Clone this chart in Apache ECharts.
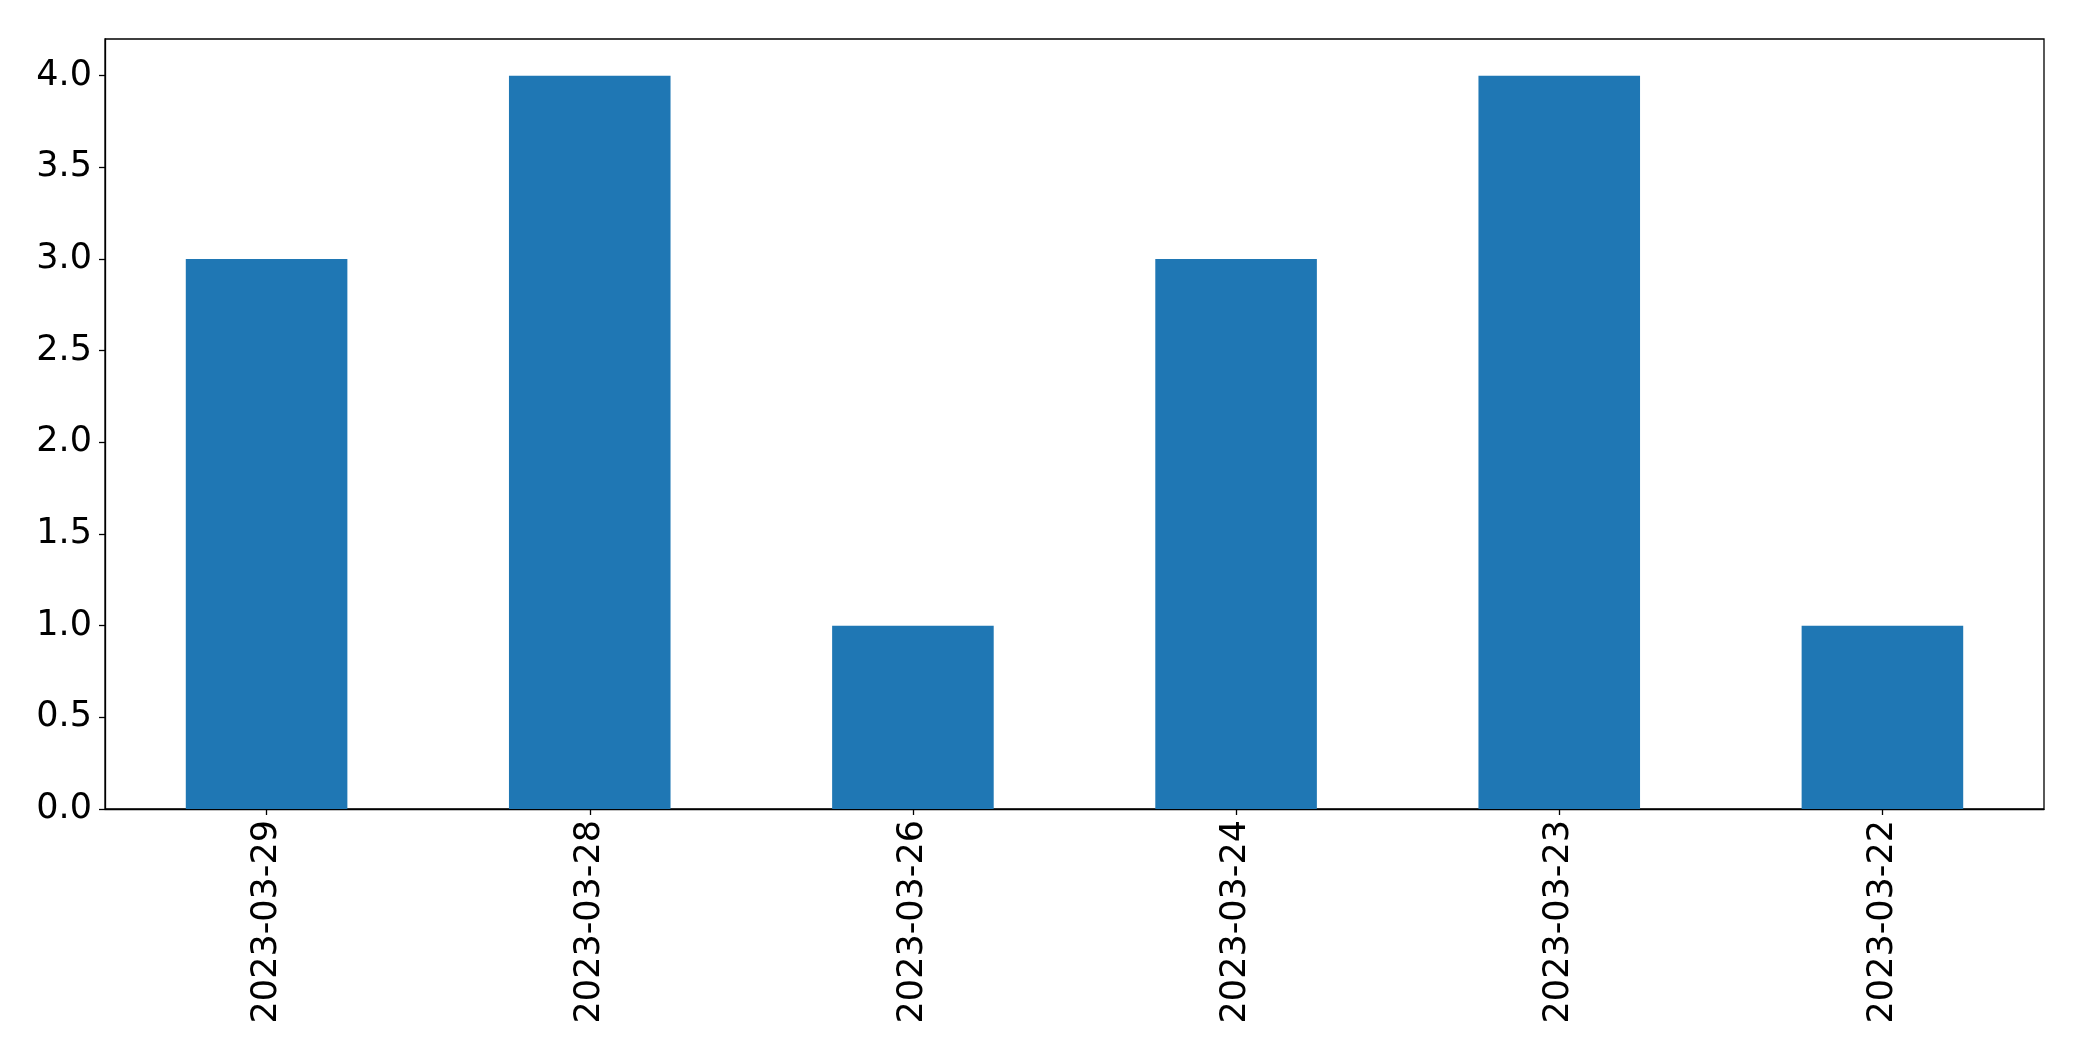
<!DOCTYPE html>
<html>
<head>
<meta charset="utf-8">
<script src="https://cdn.jsdelivr.net/npm/echarts@6/dist/echarts.min.js"></script>
<style>
html,body{margin:0;padding:0;background:#fff;}
#chart{width:2082px;height:1061px;}
</style>
</head>
<body>
<div id="chart"></div>
<script>
const categories = ["2023-03-29", "2023-03-28", "2023-03-26", "2023-03-24", "2023-03-23", "2023-03-22"];
const values = [3, 4, 1, 3, 4, 1];
const yTicks = [0, 0.5, 1, 1.5, 2, 2.5, 3, 3.5, 4];

const chart = echarts.init(document.getElementById('chart'), null, {renderer: 'canvas'});
const font = 'DejaVu Sans';
chart.setOption({
  animation: false,
  backgroundColor: '#ffffff',
  grid: {
    left: 105, right: 38, top: 39, bottom: 252,
    show: true, borderColor: '#000', borderWidth: 1.3, backgroundColor: 'transparent'
  },
  xAxis: {
    type: 'category',
    data: categories,
    axisLine: {show: true, lineStyle: {color: '#000', width: 1.3}},
    axisTick: {show: true, alignWithLabel: true, length: 6, lineStyle: {color: '#000', width: 1.3}},
    axisLabel: {rotate: 90, fontFamily: font, fontSize: 35, color: '#000', margin: 11, interval: 0},
    splitLine: {show: false}
  },
  yAxis: {
    type: 'value',
    min: 0, max: 4.2, interval: 0.5,
    axisLine: {show: true, lineStyle: {color: '#000', width: 1.3}},
    axisTick: {show: true, length: 6, lineStyle: {color: '#000', width: 1.3}},
    axisLabel: {
      fontFamily: font, fontSize: 35, color: '#000', margin: 13,
      showMaxLabel: false,
      formatter: function (v) {
        const ok = yTicks.some(t => Math.abs(t - v) < 1e-9);
        return ok ? v.toFixed(1) : '';
      }
    },
    splitLine: {show: false}
  },
  series: [{
    type: 'bar',
    data: values,
    barWidth: '50%',
    itemStyle: {color: '#1f77b4'}
  }]
});
</script>
</body>
</html>
